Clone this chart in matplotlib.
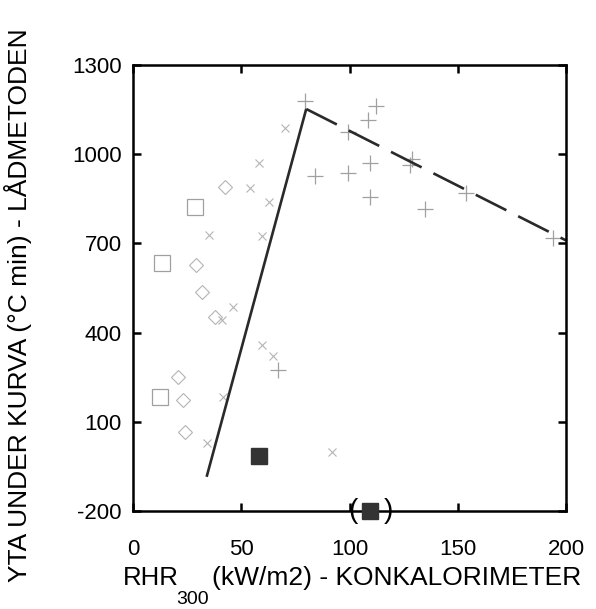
import matplotlib
matplotlib.use("Agg")
import matplotlib.pyplot as plt

plt.rcParams['font.family'] = ['Liberation Sans', 'DejaVu Sans']
plt.rcParams['axes.unicode_minus'] = False

# fitted trend: solid rising part, dashed falling part
rise_x = [34, 80]
rise_y = [-85, 1152]
fall_x = [80, 200]
fall_y = [1152, 710]

open_sq_x = [28.6, 13.4, 12.5]
open_sq_y = [822, 634, 183]

filled_sq_x = [58, 109.5]
filled_sq_y = [-15, -200]

diamond_x = [29, 23, 24, 32, 42.5, 38, 21]
diamond_y = [627, 173, 65, 537, 890, 452, 250]

plus_x = [79.4, 112, 108.5, 99.4, 84, 99.4, 109.5, 109.5, 129, 128, 154, 135, 67, 194]
plus_y = [1179, 1162, 1115, 1075, 927, 937, 970, 856, 984, 964, 869, 816, 274, 718]

cross_x = [35, 46, 54, 58, 63, 59.5, 70, 41.5, 59.6, 64.7, 92, 34, 41]
cross_y = [728, 486, 886, 970, 839, 725, 1088, 183, 358, 321, -1, 29, 442]

x_ticks = [0, 50, 100, 150, 200]
y_ticks = [-200, 100, 400, 700, 1000, 1300]

fig = plt.figure(figsize=(5.96, 6.09), dpi=100)
ax = fig.add_axes([0.2232, 0.1609, 0.7265, 0.7324])

grey = '#a0a0a0'
ax.plot(open_sq_x, open_sq_y, ls='none', marker='s', ms=11, mfc='none', mec=grey, mew=0.9)
ax.plot(diamond_x, diamond_y, ls='none', marker='D', ms=7, mfc='none', mec='#b4b4b4', mew=0.8)
ax.plot(plus_x, plus_y, ls='none', marker='+', ms=11, mec=grey, mew=0.9)
ax.plot(cross_x, cross_y, ls='none', marker='x', ms=6, mec='#b4b4b4', mew=0.8)
ax.plot(filled_sq_x, filled_sq_y, ls='none', marker='s', ms=11, color='#333333', clip_on=False, zorder=5)

ax.plot(rise_x, rise_y, color='#2a2a2a', lw=1.9, solid_capstyle='butt')
ax.plot(fall_x, fall_y, color='#2a2a2a', lw=1.9, ls=(0, (13, 5)), clip_on=False)

# parentheses around the point sitting on the bottom axis
ax.text(101.5, -200, '(', fontsize=20, ha='center', va='center', clip_on=False)
ax.text(118, -200, ')', fontsize=20, ha='center', va='center', clip_on=False)

ax.set_xlim(0, 200)
ax.set_ylim(-200, 1300)
ax.set_xticks(x_ticks)
ax.set_yticks(y_ticks)
ax.tick_params(direction='in', length=6, width=1.8, top=True, right=True, labelsize=16)
ax.tick_params(axis='x', pad=20)
ax.tick_params(axis='y', pad=8)
for s in ax.spines.values():
    s.set_linewidth(1.8)

# x label with a low subscript, built from pieces
fig.text(123 / 596, 1 - 578 / 609, 'RHR', fontsize=18.5, ha='left', va='center')
fig.text(176 / 596, 1 - 599 / 609, '300', fontsize=14, ha='left', va='center')
fig.text(212 / 596, 1 - 578 / 609, '(kW/m2) - KONKALORIMETER', fontsize=19, ha='left', va='center')
fig.text(18 / 596, 1 - 305 / 609, 'YTA UNDER KURVA (°C min) - LÅDMETODEN',
         fontsize=19, rotation=90, ha='center', va='center')

fig.savefig('out.png', dpi=100)
